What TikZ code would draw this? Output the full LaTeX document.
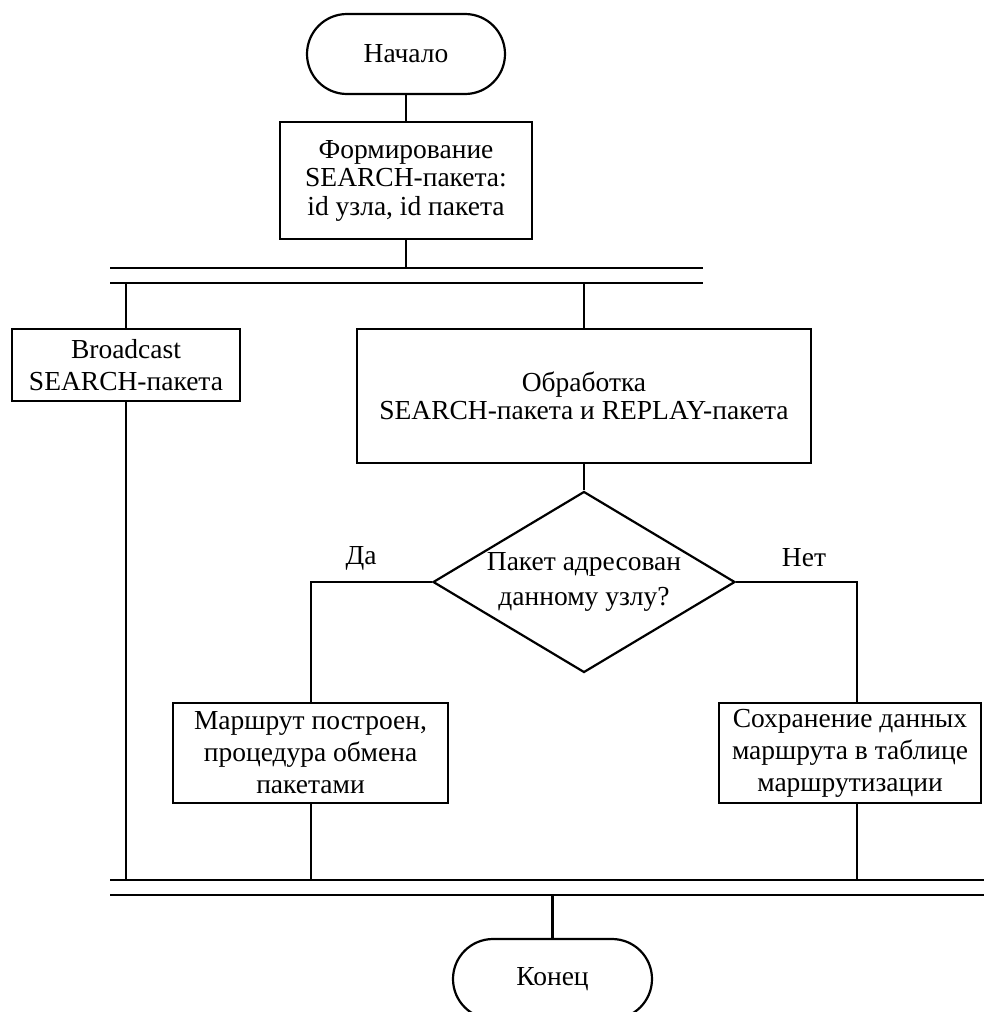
\documentclass[tikz,border=0pt]{standalone}
\usepackage{fontspec}
\setmainfont{Liberation Serif}
\usetikzlibrary{shapes.geometric}
\begin{document}
\begin{tikzpicture}[x=1pt,y=-1pt, line width=2.2pt,
  every node/.style={font=\fontsize{27.5}{32}\selectfont},
  blk/.style={draw, rectangle, align=center, inner sep=0pt},
  term/.style={draw, rectangle, rounded corners=40pt, align=center, inner sep=0pt, minimum width=198pt, minimum height=80pt},
  dec/.style={draw, diamond, aspect=1.67, inner sep=0pt, align=center, minimum width=302pt, minimum height=181pt},
  lbl/.style={inner sep=0pt}]
\useasboundingbox (0,0) rectangle (984,1012);
% start
\node[term] (start) at (406,54) {Начало};
\node[blk, minimum width=252pt, minimum height=117pt, font=\fontsize{27.5}{28.5}\selectfont] (form) at (406,180.5) {Формирование\\SEARCH-пакета:\\id узла, id пакета};
\draw (start) -- (form);
% fork bars
\coordinate (fL) at (110,268); \coordinate (fR) at (703,268);
\coordinate (fL2) at (110,283); \coordinate (fR2) at (703,283);
\draw (fL) -- (fR);
\draw (fL2) -- (fR2);
\draw (form) -- (form.south |- fL);
% branches
\node[blk, minimum width=228pt, minimum height=72pt] (bc) at (126,365) {Broadcast\\SEARCH-пакета};
\draw (bc.north |- fL2) -- (bc);
\node[blk, minimum width=454pt, minimum height=134pt, font=\fontsize{27.5}{28}\selectfont] (proc) at (584,396) {Обработка\\SEARCH-пакета и REPLAY-пакета};
\draw (proc.north |- fL2) -- (proc);
\node[dec, font=\fontsize{27.5}{35}\selectfont] (dec) at (584,582) {Пакет адресован\\данному узлу?};
\draw (proc) -- (dec);
\node[blk, minimum width=275pt, minimum height=100pt] (yes) at (310.5,753) {Маршрут построен,\\процедура обмена\\пакетами};
\node[blk, minimum width=262pt, minimum height=100pt] (no) at (850,753) {Сохранение данных\\маршрута в таблице\\маршрутизации};
\coordinate (cy) at (311,582); \coordinate (cn) at (857,582);
\draw (dec.west) -- (cy) -- (cy |- yes.north);
\draw (dec.east) -- (cn) -- (cn |- no.north);
\node[lbl] (da) at (361,558) {Да};
\node[lbl] (net) at (804,558) {Нет};
% join bars
\coordinate (jL) at (110,880); \coordinate (jR) at (984,880);
\coordinate (jL2) at (110,895); \coordinate (jR2) at (984,895);
\draw (jL) -- (jR);
\draw (jL2) -- (jR2);
\draw (bc) -- (bc.south |- jL);
\draw (cy |- yes.south) -- (cy |- jL);
\draw (cn |- no.south) -- (cn |- jL);
% end
\node[term, minimum width=199pt] (end) at (552.5,979) {Конец};
\draw (end.north |- jL2) -- (end);
\end{tikzpicture}
\end{document}
